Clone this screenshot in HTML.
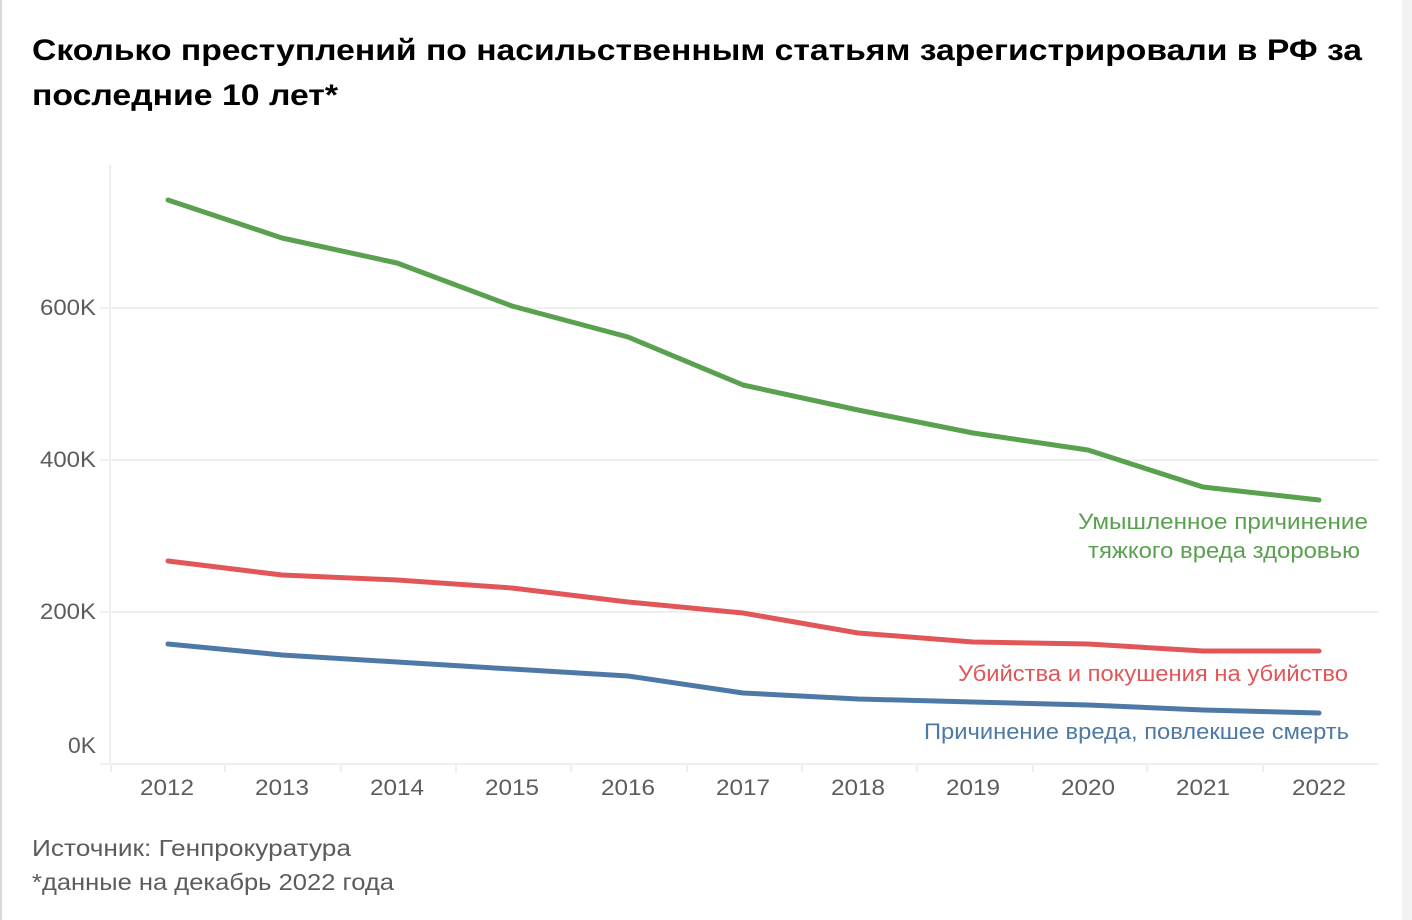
<!DOCTYPE html>
<html>
<head>
<meta charset="utf-8">
<style>
  html, body { margin: 0; padding: 0; background: #fff; }
  body { width: 1412px; height: 920px; overflow: hidden; }
  svg { display: block; }
  text { font-family: "Liberation Sans", "DejaVu Sans", sans-serif; }
</style>
</head>
<body>
<svg width="1412" height="920" viewBox="0 0 1412 920" xmlns="http://www.w3.org/2000/svg">
  <rect x="0" y="0" width="1412" height="920" fill="#ffffff"/>
  <!-- left border & right strip -->
  <rect x="0" y="0" width="2" height="920" fill="#d9d9d9"/>
  <rect x="1402" y="0" width="10" height="920" fill="#f3f3f3"/>

  <!-- Title -->
  <text x="32" y="60" font-size="30" font-weight="bold" fill="#000" textLength="1330" lengthAdjust="spacingAndGlyphs">Сколько преступлений по насильственным статьям зарегистрировали в РФ за</text>
  <text x="32" y="105" font-size="30" font-weight="bold" fill="#000" textLength="306" lengthAdjust="spacingAndGlyphs">последние 10 лет*</text>

  <!-- gridlines -->
  <g stroke="#efefef" stroke-width="2">
    <line x1="110" y1="308" x2="1378" y2="308"/>
    <line x1="110" y1="460" x2="1378" y2="460"/>
    <line x1="110" y1="612" x2="1378" y2="612"/>
    <line x1="110" y1="764" x2="1378" y2="764"/>
    <line x1="110" y1="165" x2="110" y2="765"/>
    <!-- y ticks -->
    <line x1="100" y1="308" x2="110" y2="308"/>
    <line x1="100" y1="460" x2="110" y2="460"/>
    <line x1="100" y1="612" x2="110" y2="612"/>
    <line x1="100" y1="764" x2="110" y2="764"/>
  </g>
  <!-- x ticks -->
  <g stroke="#eeeeee" stroke-width="2">
    <line x1="111" y1="765" x2="111" y2="772"/>
    <line x1="225" y1="765" x2="225" y2="772"/>
    <line x1="341" y1="765" x2="341" y2="772"/>
    <line x1="456" y1="765" x2="456" y2="772"/>
    <line x1="571" y1="765" x2="571" y2="772"/>
    <line x1="687" y1="765" x2="687" y2="772"/>
    <line x1="802" y1="765" x2="802" y2="772"/>
    <line x1="917" y1="765" x2="917" y2="772"/>
    <line x1="1033" y1="765" x2="1033" y2="772"/>
    <line x1="1147" y1="765" x2="1147" y2="772"/>
    <line x1="1263" y1="765" x2="1263" y2="772"/>
  </g>

  <!-- Y labels -->
  <g font-size="22" fill="#5c5c5c" text-anchor="end">
    <text x="96" y="315" textLength="56" lengthAdjust="spacingAndGlyphs">600K</text>
    <text x="96" y="467" textLength="56" lengthAdjust="spacingAndGlyphs">400K</text>
    <text x="96" y="619" textLength="56" lengthAdjust="spacingAndGlyphs">200K</text>
    <text x="96" y="753" textLength="28" lengthAdjust="spacingAndGlyphs">0K</text>
  </g>

  <!-- X labels -->
  <g font-size="22" fill="#5c5c5c" text-anchor="middle">
    <text x="167" y="795" textLength="54" lengthAdjust="spacingAndGlyphs">2012</text>
    <text x="282" y="795" textLength="54" lengthAdjust="spacingAndGlyphs">2013</text>
    <text x="397" y="795" textLength="54" lengthAdjust="spacingAndGlyphs">2014</text>
    <text x="512" y="795" textLength="54" lengthAdjust="spacingAndGlyphs">2015</text>
    <text x="628" y="795" textLength="54" lengthAdjust="spacingAndGlyphs">2016</text>
    <text x="743" y="795" textLength="54" lengthAdjust="spacingAndGlyphs">2017</text>
    <text x="858" y="795" textLength="54" lengthAdjust="spacingAndGlyphs">2018</text>
    <text x="973" y="795" textLength="54" lengthAdjust="spacingAndGlyphs">2019</text>
    <text x="1088" y="795" textLength="54" lengthAdjust="spacingAndGlyphs">2020</text>
    <text x="1203" y="795" textLength="54" lengthAdjust="spacingAndGlyphs">2021</text>
    <text x="1319" y="795" textLength="54" lengthAdjust="spacingAndGlyphs">2022</text>
  </g>

  <!-- Series -->
  <g fill="none" stroke-width="5" stroke-linejoin="round" stroke-linecap="round">
    <polyline stroke="#59a14f" points="168,200 282,238 397,263 512,306 628,337 743,385 858,410 973,433 1088,450 1203,487 1319,500"/>
    <polyline stroke="#e15759" points="168,561 282,575 397,580 512,588 628,602 743,613 858,633 973,642 1088,644 1203,651 1319,651"/>
    <polyline stroke="#4e79a7" points="168,644 282,655 397,662 512,669 628,676 743,693 858,699 973,702 1088,705 1203,710 1319,713"/>
  </g>

  <!-- Series labels -->
  <g font-size="22">
    <text x="1078" y="529" fill="#59a14f" textLength="290" lengthAdjust="spacingAndGlyphs">Умышленное причинение</text>
    <text x="1088" y="558" fill="#59a14f" textLength="272" lengthAdjust="spacingAndGlyphs">тяжкого вреда здоровью</text>
    <text x="958" y="681" fill="#e15759" textLength="390" lengthAdjust="spacingAndGlyphs">Убийства и покушения на убийство</text>
    <text x="924" y="739" fill="#4e79a7" textLength="425" lengthAdjust="spacingAndGlyphs">Причинение вреда, повлекшее смерть</text>
  </g>

  <!-- Footer -->
  <g font-size="23" fill="#5c5c5c">
    <text x="32" y="856" textLength="319" lengthAdjust="spacingAndGlyphs">Источник: Генпрокуратура</text>
    <text x="32" y="890" textLength="362" lengthAdjust="spacingAndGlyphs">*данные на декабрь 2022 года</text>
  </g>
</svg>
</body>
</html>
